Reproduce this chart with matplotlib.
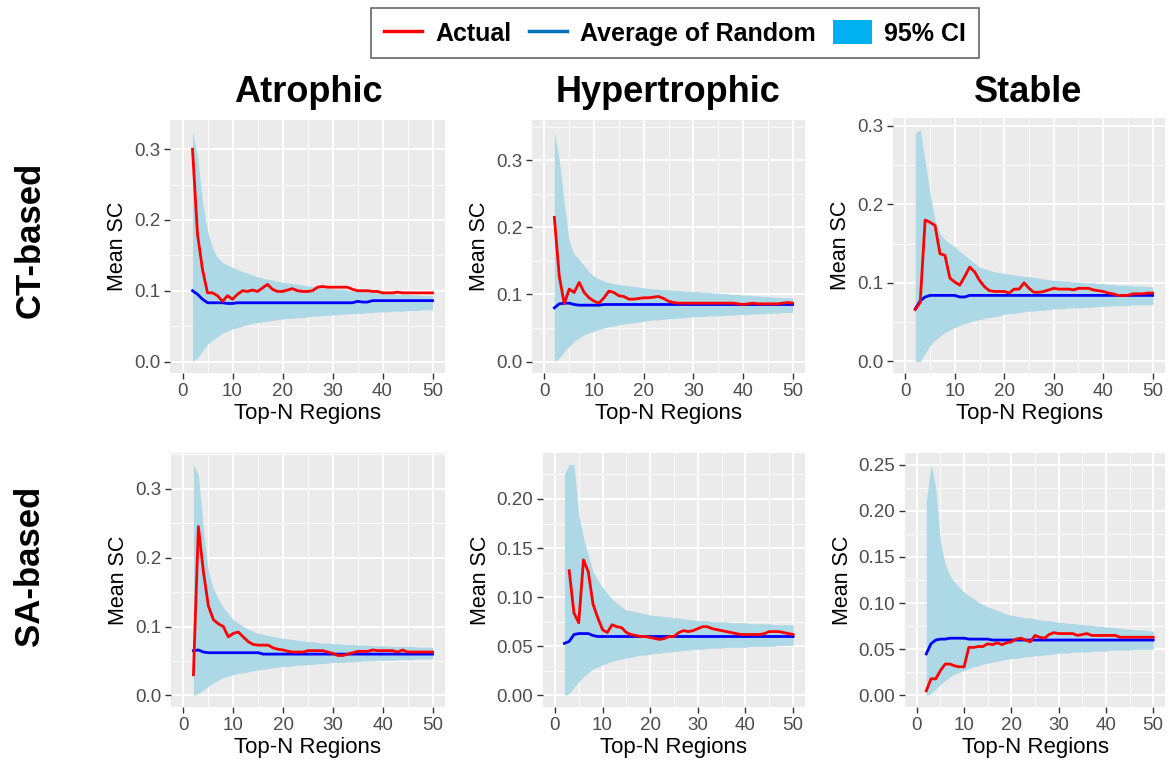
import numpy as np
import matplotlib
matplotlib.use("Agg")
import matplotlib.pyplot as plt
from matplotlib.ticker import MultipleLocator
from matplotlib.lines import Line2D
from matplotlib.patches import Patch

plt.rcParams['font.family'] = ['Liberation Sans', 'DejaVu Sans']

N = list(range(2, 51))
columns = ["Atrophic", "Hypertrophic", "Stable"]
rows = ["CT-based", "SA-based"]
x_ticks = [0, 10, 20, 30, 40, 50]

# ---- CT-based / Atrophic ----
ct_atr_actual = [.300, .180, .130, .097, .097, .093, .085, .093, .088, .095,
                 .100, .099, .101, .099, .104, .109, .102, .099, .099, .101,
                 .103, .100, .099, .099, .100, .105, .106, .105, .105, .105,
                 .105, .105, .102, .100, .100, .100, .099, .099, .097, .097,
                 .097, .098, .097, .097, .097, .097, .097, .097, .097]
ct_atr_random = [.100, .095, .088, .083, .083, .083, .083, .082, .082, .083,
                 .083, .083, .083, .083, .083, .083, .083, .083, .083, .083,
                 .083, .083, .083, .083, .083, .083, .083, .083, .083, .083,
                 .083, .083, .083, .085, .084, .084, .086, .086, .086, .086,
                 .086, .086, .086, .086, .086, .086, .086, .086, .086]
ct_atr_upper = [.325, .290, .225, .185, .160, .147, .140, .136, .133, .130,
                .127, .125, .122, .120, .118, .116, .115, .113, .112, .111,
                .110, .109, .108, .107, .106, .105, .104, .104, .103, .102,
                .102, .101, .100, .100, .099, .099, .098, .097, .097, .096,
                .096, .095, .095, .095, .094, .094, .093, .093, .093]
ct_atr_lower = [.000, .005, .015, .025, .030, .035, .040, .043, .046, .048,
                .050, .052, .054, .055, .056, .057, .058, .059, .060, .061,
                .061, .062, .062, .063, .064, .064, .065, .065, .066, .066,
                .067, .067, .068, .068, .068, .069, .069, .070, .070, .070,
                .071, .071, .071, .072, .072, .072, .073, .073, .073]

# ---- CT-based / Hypertrophic ----
ct_hyp_actual = [.215, .127, .086, .108, .103, .118, .103, .095, .090, .087,
                 .095, .105, .103, .098, .097, .093, .093, .094, .095, .095,
                 .096, .097, .094, .090, .088, .087, .087, .087, .087, .087,
                 .087, .087, .087, .087, .087, .087, .087, .086, .085, .086,
                 .087, .086, .086, .086, .086, .086, .087, .088, .087]
ct_hyp_random = [.080, .086, .087, .087, .085, .084, .084, .084, .084, .084,
                 .085, .085, .085, .085, .085, .085, .085, .085, .085, .085,
                 .085, .085, .085, .085, .085, .085, .085, .085, .085, .085,
                 .085, .085, .085, .085, .085, .085, .085, .085, .085, .085,
                 .085, .085, .085, .085, .085, .085, .085, .085, .085]
ct_hyp_upper = [.343, .300, .235, .180, .160, .152, .143, .134, .127, .123,
                .120, .118, .116, .115, .114, .113, .112, .111, .110, .109,
                .108, .108, .107, .107, .106, .106, .105, .105, .104, .104,
                .103, .103, .102, .102, .101, .101, .100, .100, .099, .099,
                .098, .098, .097, .097, .096, .096, .095, .095, .095]
ct_hyp_lower = [.000, .005, .015, .022, .030, .035, .040, .043, .045, .048,
                .050, .052, .053, .055, .056, .057, .058, .059, .060, .061,
                .062, .062, .063, .064, .064, .065, .065, .066, .067, .067,
                .067, .068, .068, .068, .069, .069, .069, .070, .070, .070,
                .071, .071, .071, .072, .072, .072, .073, .073, .073]

# ---- CT-based / Stable ----
ct_sta_actual = [.066, .075, .180, .177, .173, .137, .135, .106, .101, .097,
                 .108, .120, .114, .103, .095, .090, .089, .089, .089, .087,
                 .092, .092, .100, .093, .088, .088, .089, .091, .093, .092,
                 .092, .092, .091, .093, .093, .093, .091, .090, .089, .087,
                 .086, .084, .084, .084, .086, .086, .086, .087, .087]
ct_sta_random = [.067, .077, .082, .084, .084, .084, .084, .084, .084, .082,
                 .082, .084, .084, .084, .084, .084, .084, .084, .084, .084,
                 .084, .084, .084, .084, .084, .084, .084, .084, .084, .084,
                 .084, .084, .084, .084, .084, .084, .084, .084, .084, .084,
                 .084, .084, .084, .084, .084, .084, .084, .084, .084]
ct_sta_upper = [.290, .295, .255, .213, .180, .163, .155, .150, .146, .140,
                .135, .130, .125, .120, .118, .116, .114, .113, .112, .111,
                .110, .109, .108, .108, .107, .106, .105, .104, .103, .103,
                .102, .102, .101, .101, .100, .100, .100, .099, .099, .098,
                .098, .097, .097, .097, .096, .096, .096, .095, .095]
ct_sta_lower = [.000, .000, .010, .020, .027, .032, .037, .040, .043, .046,
                .048, .050, .052, .053, .055, .056, .057, .058, .060, .061,
                .061, .062, .063, .064, .064, .065, .065, .066, .067, .067,
                .067, .068, .068, .068, .069, .069, .069, .070, .070, .070,
                .071, .071, .071, .071, .072, .072, .072, .072, .072]

# ---- SA-based / Atrophic ----
sa_atr_actual = [.030, .245, .180, .130, .110, .104, .100, .085, .090, .092,
                 .085, .078, .074, .073, .073, .073, .069, .067, .066, .064,
                 .063, .063, .063, .065, .065, .065, .065, .063, .061, .058,
                 .058, .060, .062, .064, .064, .064, .066, .065, .065, .065,
                 .065, .063, .066, .063, .063, .063, .063, .063, .063]
sa_atr_random = [.065, .066, .063, .062, .062, .062, .062, .062, .062, .062,
                 .062, .062, .062, .062, .060, .060, .060, .060, .060, .060,
                 .060, .060, .060, .060, .060, .060, .060, .060, .060, .060,
                 .060, .060, .060, .060, .060, .060, .060, .060, .060, .060,
                 .060, .060, .060, .060, .060, .060, .060, .060, .060]
sa_atr_upper = [.335, .320, .240, .180, .155, .140, .128, .118, .110, .105,
                .100, .096, .093, .090, .089, .087, .086, .084, .083, .082,
                .081, .080, .079, .078, .078, .077, .076, .076, .075, .075,
                .074, .074, .074, .073, .073, .073, .072, .072, .072, .072,
                .071, .071, .071, .071, .071, .070, .070, .070, .070]
sa_atr_lower = [.000, .003, .008, .013, .018, .022, .026, .028, .030, .032,
                .033, .034, .036, .037, .038, .039, .040, .041, .042, .042,
                .043, .044, .044, .045, .045, .046, .046, .047, .048, .048,
                .048, .049, .049, .049, .050, .050, .050, .051, .051, .051,
                .051, .052, .052, .052, .052, .053, .053, .053, .053]

# ---- SA-based / Hypertrophic ----
sa_hyp_actual = [np.nan, .127, .084, .074, .138, .126, .093, .079, .067, .064,
                 .072, .070, .069, .064, .062, .061, .060, .060, .059, .058,
                 .057, .058, .060, .060, .064, .066, .065, .066, .068, .070,
                 .070, .068, .067, .066, .065, .064, .063, .062, .062, .062,
                 .062, .062, .063, .065, .065, .065, .064, .063, .062]
sa_hyp_random = [.053, .055, .062, .063, .063, .063, .061, .060, .060, .060,
                 .060, .060, .060, .060, .060, .060, .060, .060, .060, .060,
                 .060, .060, .060, .060, .060, .060, .060, .060, .060, .060,
                 .060, .060, .060, .060, .060, .060, .060, .060, .060, .060,
                 .060, .060, .060, .060, .060, .060, .060, .060, .060]
sa_hyp_upper = [.225, .235, .235, .184, .160, .143, .126, .117, .110, .104,
                .098, .094, .090, .087, .086, .085, .084, .083, .082, .081,
                .081, .080, .080, .079, .079, .078, .077, .077, .076, .076,
                .076, .075, .075, .075, .075, .074, .074, .074, .074, .073,
                .073, .073, .073, .073, .072, .072, .072, .072, .072]
sa_hyp_lower = [.000, .002, .008, .014, .019, .023, .027, .029, .031, .033,
                .035, .036, .037, .038, .039, .040, .041, .041, .042, .043,
                .043, .044, .044, .045, .045, .046, .046, .047, .047, .047,
                .048, .048, .048, .048, .049, .049, .049, .049, .049, .050,
                .050, .050, .050, .050, .050, .051, .051, .051, .051]

# ---- SA-based / Stable ----
sa_sta_actual = [.005, .018, .018, .027, .034, .034, .032, .031, .031, .052,
                 .052, .053, .053, .056, .055, .057, .055, .057, .058, .061,
                 .062, .060, .058, .065, .063, .062, .066, .068, .067, .067,
                 .067, .067, .065, .066, .067, .065, .065, .065, .065, .065,
                 .065, .063, .063, .063, .063, .063, .063, .063, .063]
sa_sta_random = [.045, .056, .060, .061, .061, .062, .062, .062, .062, .061,
                 .061, .061, .061, .061, .060, .060, .060, .060, .060, .060,
                 .060, .060, .060, .060, .060, .060, .060, .060, .060, .060,
                 .060, .060, .060, .060, .060, .060, .060, .060, .060, .060,
                 .060, .060, .060, .060, .060, .060, .060, .060, .060]
sa_sta_upper = [.210, .250, .225, .166, .142, .130, .123, .117, .112, .108,
                .105, .101, .098, .096, .094, .092, .090, .088, .087, .086,
                .085, .084, .084, .083, .082, .081, .081, .080, .079, .079,
                .078, .078, .077, .077, .076, .076, .075, .075, .074, .074,
                .073, .073, .072, .072, .071, .071, .071, .070, .070]
sa_sta_lower = [.000, .002, .007, .012, .016, .020, .023, .025, .027, .029,
                .031, .032, .034, .035, .036, .037, .038, .039, .040, .040,
                .041, .042, .042, .043, .043, .044, .044, .045, .046, .046,
                .046, .047, .047, .047, .047, .048, .048, .048, .048, .049,
                .049, .049, .049, .049, .050, .050, .050, .050, .050]

panels = [
    [(ct_atr_actual, ct_atr_random, ct_atr_lower, ct_atr_upper, 0.1),
     (ct_hyp_actual, ct_hyp_random, ct_hyp_lower, ct_hyp_upper, 0.1),
     (ct_sta_actual, ct_sta_random, ct_sta_lower, ct_sta_upper, 0.1)],
    [(sa_atr_actual, sa_atr_random, sa_atr_lower, sa_atr_upper, 0.1),
     (sa_hyp_actual, sa_hyp_random, sa_hyp_lower, sa_hyp_upper, 0.05),
     (sa_sta_actual, sa_sta_random, sa_sta_lower, sa_sta_upper, 0.05)],
]

W, H = 1174, 771
fig = plt.figure(figsize=(W / 100, H / 100), dpi=100)

# axes boxes in pixels: (left, right, top, bottom)
boxes = [
    [(170, 445, 120, 373), (532, 805, 120, 373), (893, 1165, 118, 373)],
    [(171, 445, 453, 707), (543, 805, 453, 707), (905, 1165, 453, 707)],
]

BG = "#EBEBEB"
for r in range(2):
    for c in range(3):
        actual, rand, lo, hi, step = panels[r][c]
        l, rt, t, b = boxes[r][c]
        ax = fig.add_axes([l / W, 1 - b / H, (rt - l) / W, (b - t) / H])
        ax.set_facecolor(BG)
        for s in ax.spines.values():
            s.set_visible(False)
        ax.fill_between(N, lo, hi, color="#ADD8E6", lw=0, zorder=2)
        ax.plot(N, rand, color="#0000FF", lw=2.0, zorder=3)
        ax.plot(N, actual, color="#FF0000", lw=2.0, zorder=4)
        ymin = np.nanmin([np.nanmin(lo), np.nanmin(actual), np.nanmin(rand)])
        ymax = np.nanmax([np.nanmax(hi), np.nanmax(actual), np.nanmax(rand)])
        pad = 0.05 * (ymax - ymin)
        ax.set_ylim(ymin - pad, ymax + pad)
        ax.set_xlim(-2.5, 52.5)
        ax.set_xticks(x_ticks)
        ax.xaxis.set_minor_locator(MultipleLocator(5))
        ax.yaxis.set_major_locator(MultipleLocator(step))
        ax.yaxis.set_minor_locator(MultipleLocator(step / 2))
        if step == 0.1:
            ax.yaxis.set_major_formatter(lambda v, p: f"{v:.1f}")
        else:
            ax.yaxis.set_major_formatter(lambda v, p: f"{v:.2f}")
        ax.grid(which="major", color="white", lw=1.3, zorder=0)
        ax.grid(which="minor", color="white", lw=0.6, zorder=0)
        ax.set_axisbelow(True)
        ax.tick_params(which="major", length=4, width=1, color="#333333",
                       labelsize=13.5, labelcolor="#4D4D4D", pad=3)
        ax.tick_params(which="minor", length=0)
        ax.set_xlabel("Top-N Regions", fontsize=16, color="black", labelpad=2)
        ax.set_ylabel("Mean SC", fontsize=15.5, color="black", labelpad=4)

# column titles
col_centers = [308, 668, 1028]
for name, cx in zip(columns, col_centers):
    fig.text(cx / W, 1 - 92 / H, name, ha="center", va="center",
             fontsize=26, fontweight="bold")

# row labels
row_centers = [240, 566]
for name, cy in zip(rows, row_centers):
    fig.text(30 / W, 1 - cy / H, name, ha="center", va="center",
             fontsize=25, fontweight="bold", rotation=90)

handles = [Line2D([], [], color="#FF0000", lw=2.5),
           Line2D([], [], color="#0070C0", lw=2.5),
           Patch(facecolor="#00B0F0", edgecolor="none")]
labels = ["Actual", "Average of Random", "95% CI"]
leg = fig.legend(handles, labels, loc="center", ncol=3,
                 bbox_to_anchor=(675 / W, 1 - 33 / H),
                 prop={"weight": "bold", "size": 18},
                 frameon=True, fancybox=False, edgecolor="#404040",
                 handlelength=1.55, handleheight=1.1, columnspacing=0.7,
                 handletextpad=0.5, borderpad=0.5, borderaxespad=0)
leg.get_frame().set_linewidth(1.2)

fig.savefig("out.png", dpi=100)
